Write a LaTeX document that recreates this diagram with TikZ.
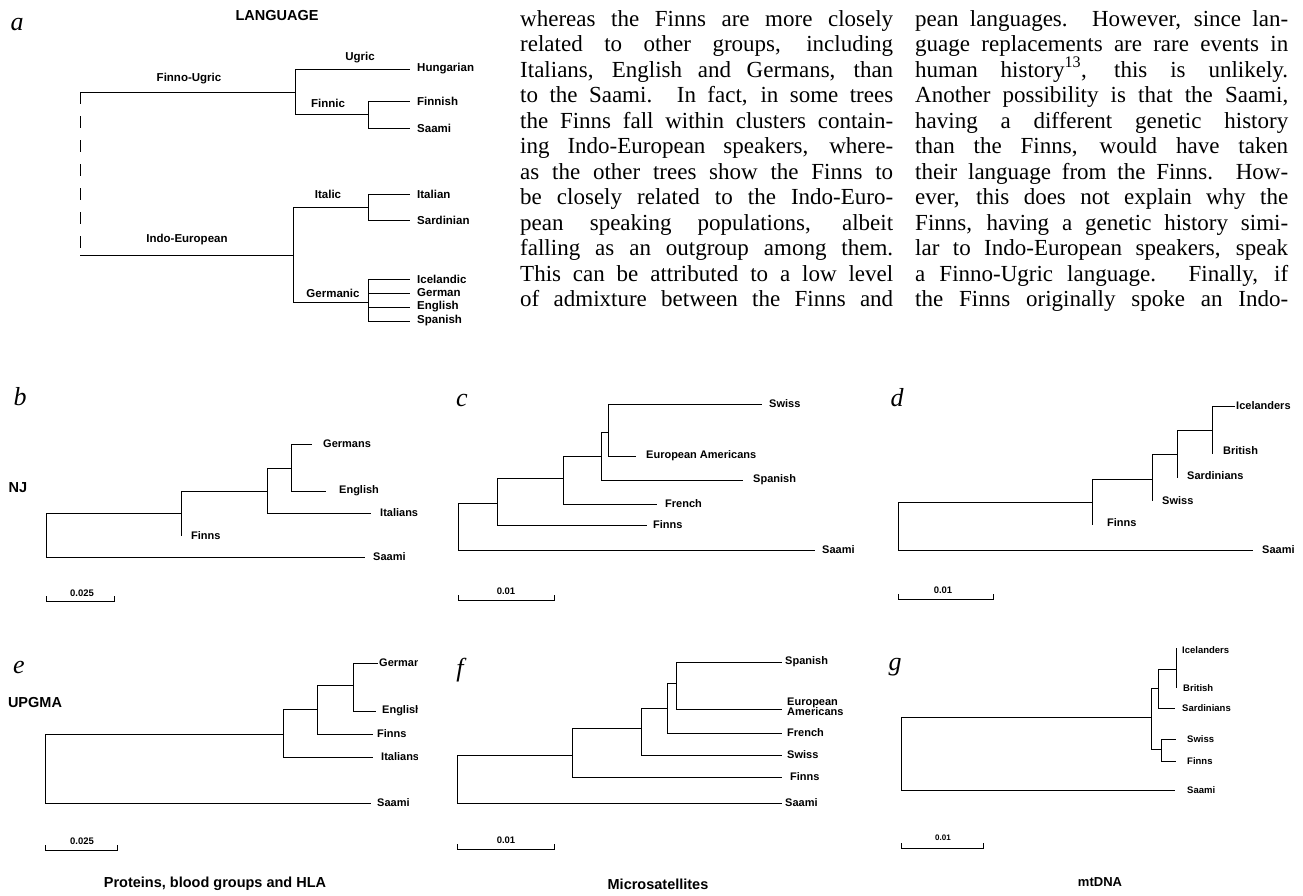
\documentclass[tikz,border=0pt]{standalone}
\usepackage{fontspec}
\setmainfont{Liberation Serif}
\setsansfont{Liberation Sans}
\newcommand\cola[1]{\makebox[373pt][s]{#1}}
\newcommand\colb[1]{\makebox[373pt][s]{#1}}
\begin{document}
\begin{tikzpicture}[x=1pt,y=-1pt,
 br/.style={line width=0.95pt},
 sbar/.style={line width=0.9pt},
 lab/.style={font=\sffamily\bfseries\fontsize{11}{11}\selectfont, anchor=west, inner sep=0pt},
 alab/.style={font=\sffamily\bfseries\fontsize{11.5}{11.5}\selectfont, anchor=west, inner sep=0pt},
 clade/.style={font=\sffamily\bfseries\fontsize{11.5}{11.5}\selectfont, inner sep=0pt},
 glab/.style={font=\sffamily\bfseries\fontsize{9.5}{9.5}\selectfont, anchor=west, inner sep=0pt},
 scl/.style={font=\sffamily\bfseries\fontsize{9.5}{9.5}\selectfont, inner sep=0pt},
 plet/.style={font=\itshape\fontsize{26}{26}\selectfont, inner sep=0pt},
 head/.style={font=\sffamily\bfseries\fontsize{14.5}{14.5}\selectfont, inner sep=0pt},
 capt/.style={font=\sffamily\bfseries\fontsize{14.5}{14.5}\selectfont, inner sep=0pt},
 body/.style={font=\fontsize{23}{23}\selectfont, anchor=base west, inner sep=0pt},
]
\useasboundingbox (0,0) rectangle (1303,895);

% ---------------- body text ----------------
\node[body] (t2l1) at (520,26) {\cola{whereas the Finns are more closely}};
\node[body] (t2l2) at (520,51.5) {\cola{related to other groups, including}};
\node[body] (t2l3) at (520,77) {\cola{Italians, English and Germans, than}};
\node[body] (t2l4) at (520,102.5) {\cola{to the Saami. In fact, in some trees}};
\node[body] (t2l5) at (520,128) {\cola{the Finns fall within clusters contain-}};
\node[body] (t2l6) at (520,153.5) {\cola{ing Indo-European speakers, where-}};
\node[body] (t2l7) at (520,179) {\cola{as the other trees show the Finns to}};
\node[body] (t2l8) at (520,204.5) {\cola{be closely related to the Indo-Euro-}};
\node[body] (t2l9) at (520,230) {\cola{pean speaking populations, albeit}};
\node[body] (t2l10) at (520,255.5) {\cola{falling as an outgroup among them.}};
\node[body] (t2l11) at (520,281) {\cola{This can be attributed to a low level}};
\node[body] (t2l12) at (520,306.5) {\cola{of admixture between the Finns and}};

\node[body] (t3l1) at (915,26) {\colb{pean languages. However, since lan-}};
\node[body] (t3l2) at (915,51.5) {\colb{guage replacements are rare events in}};
\node[body] (t3l3) at (915,77) {\colb{human history\textsuperscript{13}, this is unlikely.}};
\node[body] (t3l4) at (915,102.5) {\colb{Another possibility is that the Saami,}};
\node[body] (t3l5) at (915,128) {\colb{having a different genetic history}};
\node[body] (t3l6) at (915,153.5) {\colb{than the Finns, would have taken}};
\node[body] (t3l7) at (915,179) {\colb{their language from the Finns. How-}};
\node[body] (t3l8) at (915,204.5) {\colb{ever, this does not explain why the}};
\node[body] (t3l9) at (915,230) {\colb{Finns, having a genetic history simi-}};
\node[body] (t3l10) at (915,255.5) {\colb{lar to Indo-European speakers, speak}};
\node[body] (t3l11) at (915,281) {\colb{a Finno-Ugric language. Finally, if}};
\node[body] (t3l12) at (915,306.5) {\colb{the Finns originally spoke an Indo-}};

% ---------------- panel a ----------------
\node[plet] (pa) at (17,25) {a};
\node[head] (hlang) at (277,16) {LANGUAGE};
\coordinate (aTop) at (80,92);
\coordinate (aBot) at (80,255);
\coordinate (aFU) at (295,92);
\coordinate (aIE) at (293,255);
\coordinate (aFc) at (368,114);
\coordinate (aIt) at (368,207);
\coordinate (aGe) at (368,302);
\coordinate (tHun) at (410,69);
\coordinate (tFin) at (410,101);
\coordinate (tSaa) at (410,128);
\coordinate (tIta) at (410,194);
\coordinate (tSar) at (410,220);
\coordinate (tIce) at (410,279);
\coordinate (tGer) at (410,293);
\coordinate (tEng) at (410,307);
\coordinate (tSpa) at (410,321);
\draw[br, dash pattern=on 12pt off 12pt] (aTop) -- (aBot);
\draw[br] (aTop) -- (aFU);
\draw[br] (aBot) -- (aIE);
\draw[br] (aFU) |- (tHun);
\draw[br] (aFU) |- (aFc);
\draw[br] (aFc) |- (tFin);
\draw[br] (aFc) |- (tSaa);
\draw[br] (aIE) |- (aIt);
\draw[br] (aIE) |- (aGe);
\draw[br] (aIt) |- (tIta);
\draw[br] (aIt) |- (tSar);
\draw[br] (aGe) |- (tIce);
\draw[br] (aGe) |- (tGer);
\draw[br] (aGe) |- (tEng);
\draw[br] (aGe) |- (tSpa);
\node[clade] (cUg) at (360,58) {Ugric};
\node[clade] (cFU) at (189,79) {Finno-Ugric};
\node[clade] (cFn) at (328,103) {Finnic};
\node[clade] (cIt) at (328,194) {Italic};
\node[clade] (cIE) at (187,240) {Indo-European};
\node[clade] (cGe) at (333,293) {Germanic};
\node[alab] (lHun) at (417,69) {Hungarian};
\node[alab] (lFin) at (417,101) {Finnish};
\node[alab] (lSaa) at (417,128) {Saami};
\node[alab] (lIta) at (417,194) {Italian};
\node[alab] (lSar) at (417,220) {Sardinian};
\node[alab] (lIce) at (417,279) {Icelandic};
\node[alab] (lGer) at (417,293) {German};
\node[alab] (lEng) at (417,307) {English};
\node[alab] (lSpa) at (417,321) {Spanish};

% ---------------- panel b ----------------
\node[plet] (pb) at (20,397) {b};
\node[head] (hnj) at (18,488) {NJ};
\coordinate (bR) at (46,535);
\coordinate (bN1) at (181,513);
\coordinate (bN2) at (267,491);
\coordinate (bN3) at (291,468);
\coordinate (bSaT) at (365,557);
\coordinate (bFiT) at (181,536);
\coordinate (bItT) at (371,513);
\coordinate (bGeT) at (312,444);
\coordinate (bEnT) at (326,491);
\draw[br] (bR) |- (bN1);
\draw[br] (bR) |- (bSaT);
\draw[br] (bN1) |- (bN2);
\draw[br] (bN1) |- (bFiT);
\draw[br] (bN2) |- (bN3);
\draw[br] (bN2) |- (bItT);
\draw[br] (bN3) |- (bGeT);
\draw[br] (bN3) |- (bEnT);
\node[lab] (bGe) at (323,444) {Germans};
\node[lab] (bEn) at (339,491) {English};
\node[lab] (bIt) at (380,513) {Italians};
\node[lab] (bFi) at (191,536) {Finns};
\node[lab] (bSa) at (373,557) {Saami};
\coordinate (bS1) at (46,601);
\coordinate (bS2) at (114,601);
\draw[sbar] (46,596) -- (bS1) -- (bS2) -- (114,596);
\node[scl] (bSL) at (82,593) {0.025};

% ---------------- panel c ----------------
\node[plet] (pc) at (462,400) {c};
\coordinate (cR) at (458,527);
\coordinate (cN1) at (497,503);
\coordinate (cN2) at (563,478);
\coordinate (cN3) at (601,456);
\coordinate (cN4) at (608,432);
\coordinate (cSaT) at (815,550);
\coordinate (cFiT) at (647,525);
\coordinate (cFrT) at (657,504);
\coordinate (cSpT) at (743,480);
\coordinate (cSwT) at (762,404);
\coordinate (cEAT) at (636,456);
\draw[br] (cR) |- (cN1);
\draw[br] (cR) |- (cSaT);
\draw[br] (cN1) |- (cN2);
\draw[br] (cN1) |- (cFiT);
\draw[br] (cN2) |- (cN3);
\draw[br] (cN2) |- (cFrT);
\draw[br] (cN3) |- (cN4);
\draw[br] (cN3) |- (cSpT);
\draw[br] (cN4) |- (cSwT);
\draw[br] (cN4) |- (cEAT);
\node[lab] (cSw) at (769,404) {Swiss};
\node[lab] (cEA) at (646,456) {European Americans};
\node[lab] (cSp) at (753,480) {Spanish};
\node[lab] (cFr) at (665,504) {French};
\node[lab] (cFi) at (653,525) {Finns};
\node[lab] (cSa) at (822,550) {Saami};
\coordinate (cS1) at (458,600);
\coordinate (cS2) at (554,600);
\draw[sbar] (458,595) -- (cS1) -- (cS2) -- (554,595);
\node[scl] (cSL) at (506,591) {0.01};

% ---------------- panel d ----------------
\node[plet] (pd) at (897,398) {d};
\coordinate (dR) at (898,526);
\coordinate (dN1) at (1092,502);
\coordinate (dN2) at (1152,479);
\coordinate (dN3) at (1177,454);
\coordinate (dN4) at (1212,430);
\coordinate (dSaT) at (1253,550);
\coordinate (dFiT) at (1092,525);
\coordinate (dSwT) at (1152,501);
\coordinate (dSdT) at (1177,478);
\coordinate (dIcT) at (1235,406);
\coordinate (dBrT) at (1212,454);
\draw[br] (dR) |- (dN1);
\draw[br] (dR) |- (dSaT);
\draw[br] (dN1) |- (dN2);
\draw[br] (dN1) |- (dFiT);
\draw[br] (dN2) |- (dN3);
\draw[br] (dN2) |- (dSwT);
\draw[br] (dN3) |- (dN4);
\draw[br] (dN3) |- (dSdT);
\draw[br] (dN4) |- (dIcT);
\draw[br] (dN4) |- (dBrT);
\node[lab] (dIc) at (1236,406) {Icelanders};
\node[lab] (dBr) at (1223,451) {British};
\node[lab] (dSd) at (1187,476) {Sardinians};
\node[lab] (dSw) at (1162,501) {Swiss};
\node[lab] (dFi) at (1107,523) {Finns};
\node[lab] (dSa) at (1262,550) {Saami};
\coordinate (dS1) at (898,599);
\coordinate (dS2) at (993,599);
\draw[sbar] (898,594) -- (dS1) -- (dS2) -- (993,594);
\node[scl] (dSL) at (943,590) {0.01};

% ---------------- panel e ----------------
\node[plet] (pe) at (19,667) {e};
\node[head] (hup) at (35,702) {UPGMA};
\coordinate (eR) at (45,768);
\coordinate (eN1) at (283,734);
\coordinate (eN2) at (317,709);
\coordinate (eN3) at (353,685);
\coordinate (eSaT) at (371,803);
\coordinate (eItT) at (373,757);
\coordinate (eFiT) at (373,734);
\coordinate (eGeT) at (378,663);
\coordinate (eEnT) at (376,711);
\draw[br] (eR) |- (eN1);
\draw[br] (eR) |- (eSaT);
\draw[br] (eN1) |- (eN2);
\draw[br] (eN1) |- (eItT);
\draw[br] (eN2) |- (eN3);
\draw[br] (eN2) |- (eFiT);
\draw[br] (eN3) |- (eGeT);
\draw[br] (eN3) |- (eEnT);
\begin{scope}
\clip (0,640) rectangle (417,820);
\node[lab] (eGe) at (379,663) {Germans};
\node[lab] (eEn) at (382,711) {English};
\node[lab] (eFi) at (377,734) {Finns};
\node[lab] (eIt) at (381,757) {Italians};
\node[lab] (eSa) at (377,803) {Saami};
\end{scope}
\coordinate (eS1) at (45,850);
\coordinate (eS2) at (117,850);
\draw[sbar] (45,845) -- (eS1) -- (eS2) -- (117,845);
\node[scl] (eSL) at (82,841) {0.025};
\node[capt] (capE) at (215,884) {Proteins, blood groups and HLA};

% ---------------- panel f ----------------
\node[plet] (pf) at (460,670) {f};
\coordinate (fR) at (457,779);
\coordinate (fN1) at (572,755);
\coordinate (fN2) at (641,728);
\coordinate (fN3) at (667,708);
\coordinate (fN4) at (676,683);
\coordinate (fSaT) at (782,803);
\coordinate (fFiT) at (782,777);
\coordinate (fSwT) at (782,755);
\coordinate (fFrT) at (782,733);
\coordinate (fSpT) at (782,662);
\coordinate (fEAT) at (782,709);
\draw[br] (fR) |- (fN1);
\draw[br] (fR) |- (fSaT);
\draw[br] (fN1) |- (fN2);
\draw[br] (fN1) |- (fFiT);
\draw[br] (fN2) |- (fN3);
\draw[br] (fN2) |- (fSwT);
\draw[br] (fN3) |- (fN4);
\draw[br] (fN3) |- (fFrT);
\draw[br] (fN4) |- (fSpT);
\draw[br] (fN4) |- (fEAT);
\node[lab] (fSp) at (785,662) {Spanish};
\node[lab, align=left] (fEA) at (787,707) {European\\[-1pt]Americans};
\node[lab] (fFr) at (787,733) {French};
\node[lab] (fSw) at (787,755) {Swiss};
\node[lab] (fFi) at (790,777) {Finns};
\node[lab] (fSa) at (785,803) {Saami};
\coordinate (fS1) at (457,849);
\coordinate (fS2) at (554,849);
\draw[sbar] (457,844) -- (fS1) -- (fS2) -- (554,844);
\node[scl] (fSL) at (506,840) {0.01};
\node[capt] (capF) at (658,884) {Microsatellites};

% ---------------- panel g ----------------
\node[plet] (pg) at (895,667) {g};
\coordinate (gR) at (901,753);
\coordinate (gN1) at (1151,717);
\coordinate (gN2) at (1158,688);
\coordinate (gN3) at (1176,669);
\coordinate (gN5) at (1161,749);
\coordinate (gSaT) at (1175,790);
\coordinate (gSdT) at (1175,708);
\coordinate (gIcT) at (1176,648);
\coordinate (gBrT) at (1176,688);
\coordinate (gSwT) at (1176,739);
\coordinate (gFiT) at (1176,761);
\draw[br] (gR) |- (gN1);
\draw[br] (gR) |- (gSaT);
\draw[br] (gN1) |- (gN2);
\draw[br] (gN1) |- (gN5);
\draw[br] (gN2) |- (gN3);
\draw[br] (gN2) |- (gSdT);
\draw[br] (gN3) |- (gIcT);
\draw[br] (gN3) |- (gBrT);
\draw[br] (gN5) |- (gSwT);
\draw[br] (gN5) |- (gFiT);
\node[glab] (gIc) at (1182,650) {Icelanders};
\node[glab] (gBr) at (1183,688) {British};
\node[glab] (gSd) at (1182,708) {Sardinians};
\node[glab] (gSw) at (1187,739) {Swiss};
\node[glab] (gFi) at (1187,761) {Finns};
\node[glab] (gSa) at (1187,790) {Saami};
\coordinate (gS1) at (901,848);
\coordinate (gS2) at (983,848);
\draw[sbar] (901,843) -- (gS1) -- (gS2) -- (983,843);
\node[scl, font=\sffamily\bfseries\fontsize{8}{8}\selectfont] (gSL) at (943,838) {0.01};
\node[capt, font=\sffamily\bfseries\fontsize{13}{13}\selectfont] (capG) at (1100,882) {mtDNA};
\end{tikzpicture}
\end{document}
